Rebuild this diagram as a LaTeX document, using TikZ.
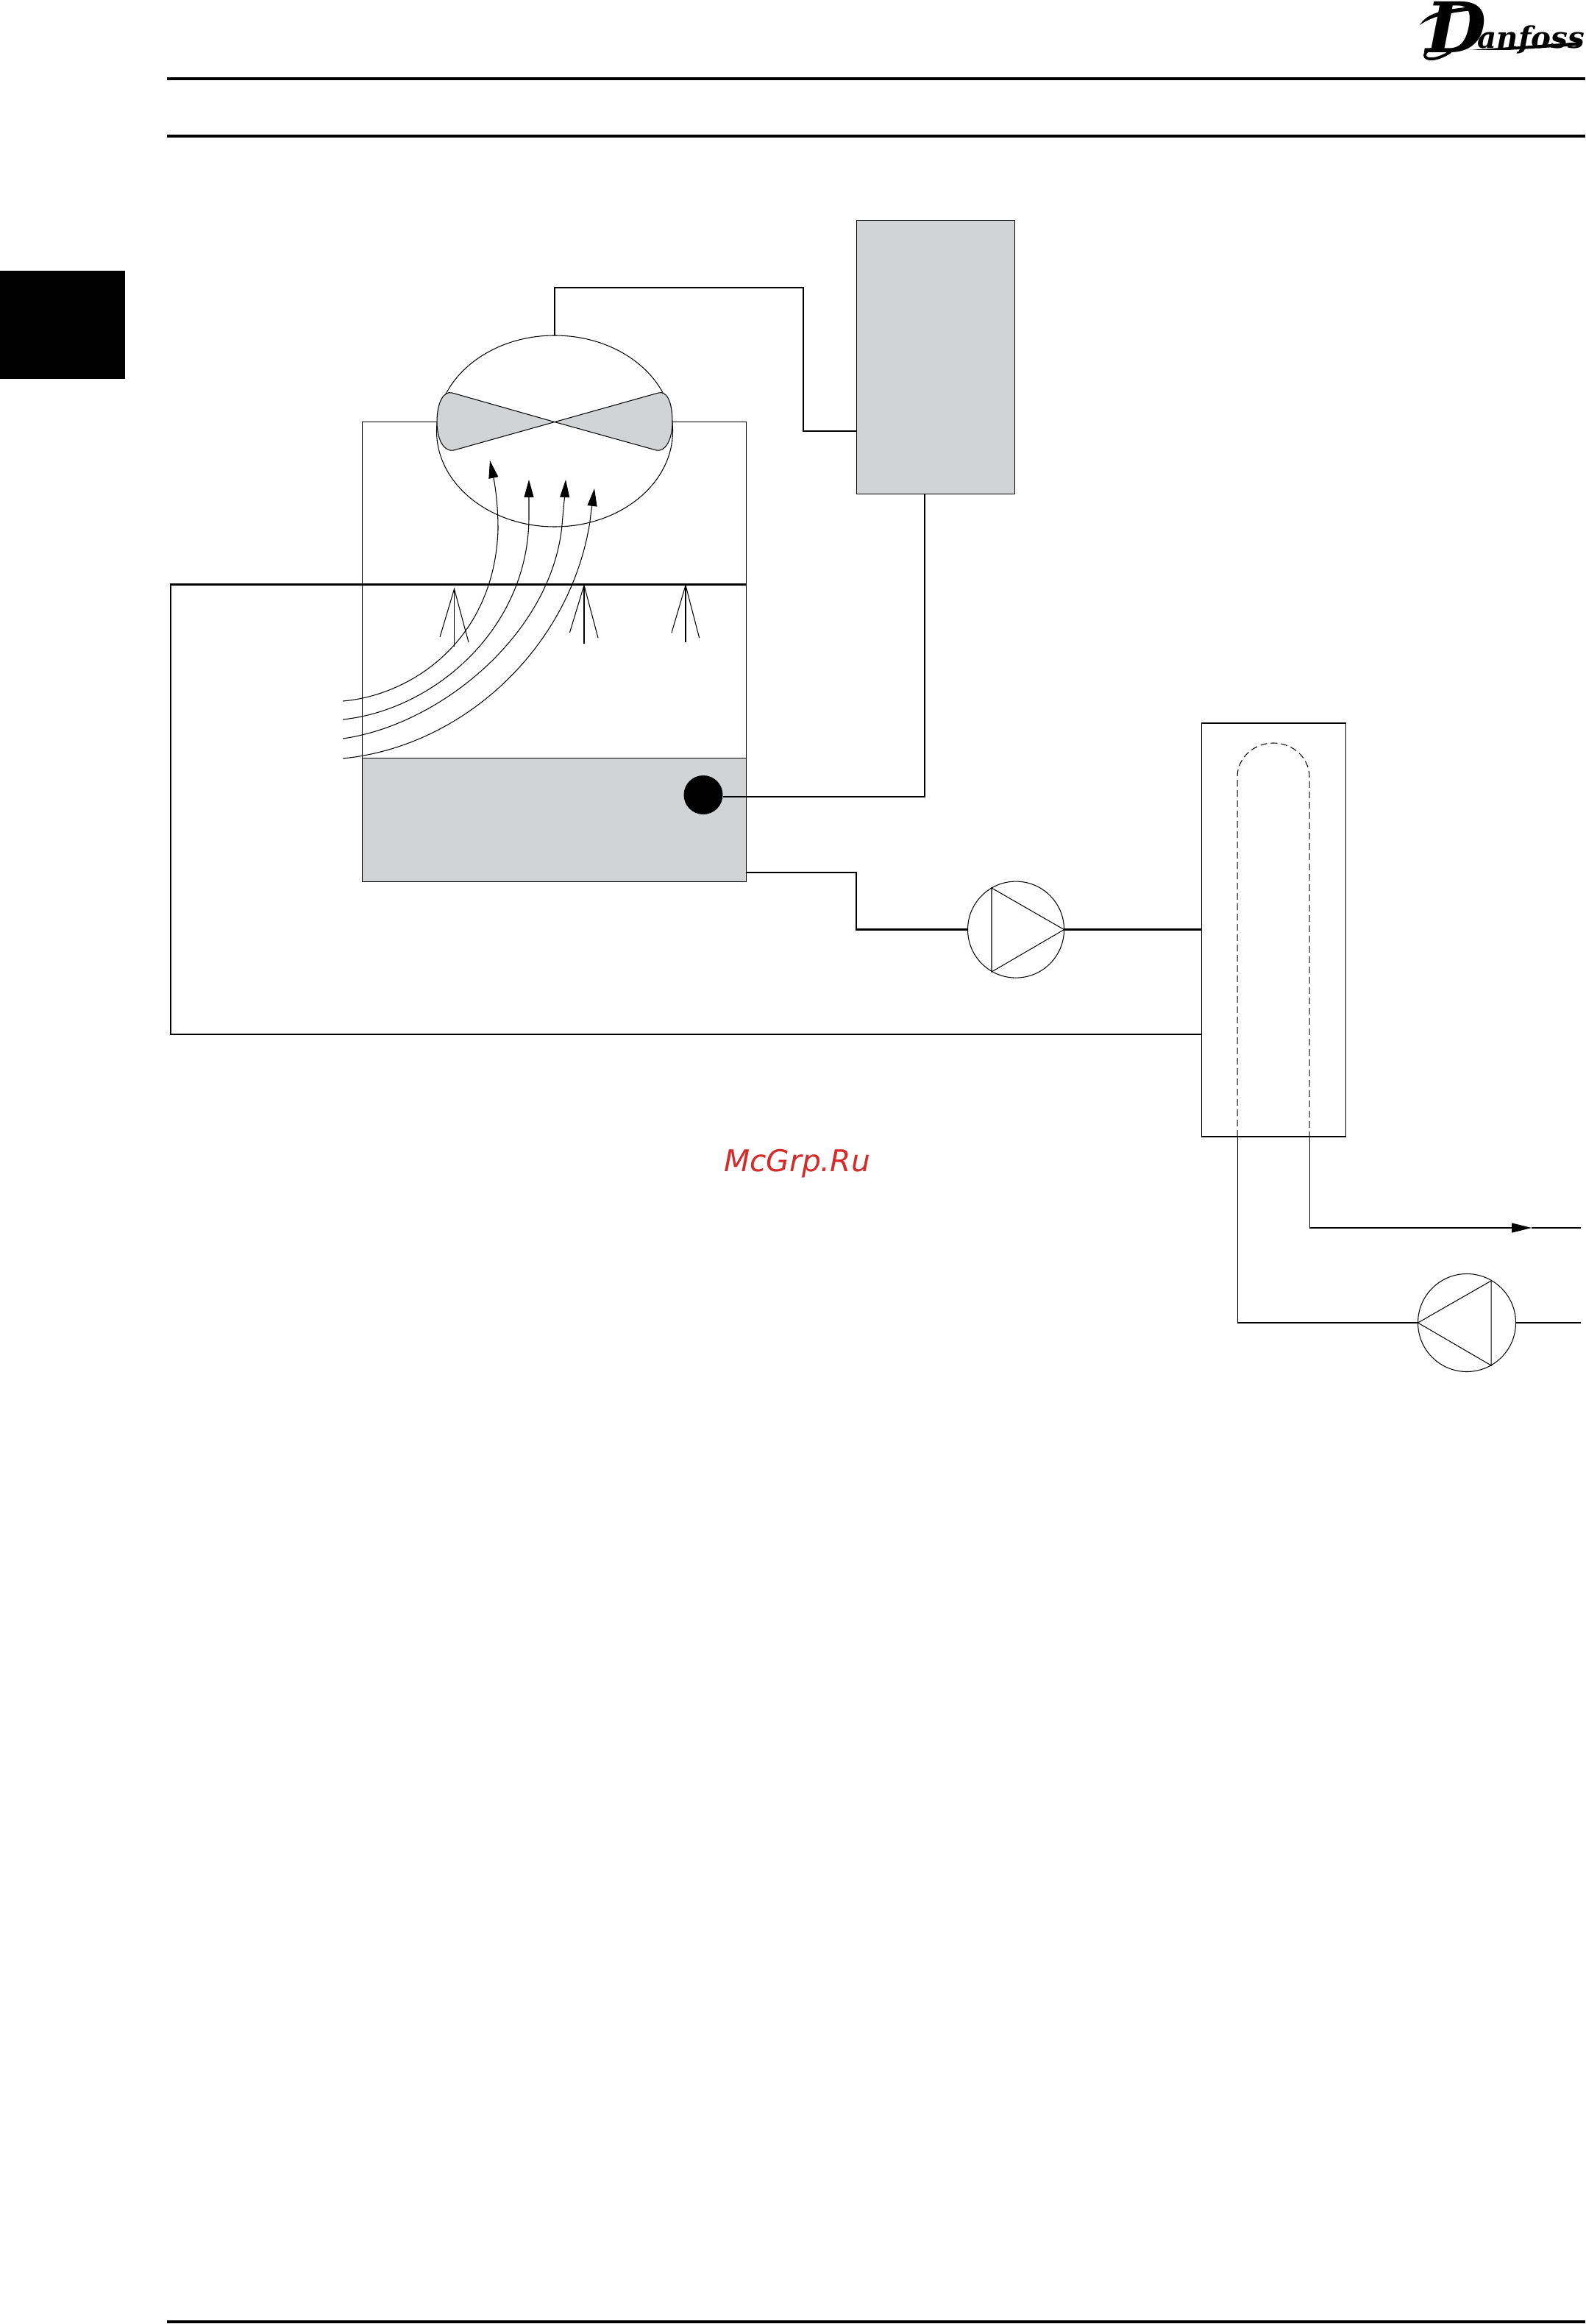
\documentclass[tikz,border=0pt]{standalone}
\usepackage{fontspec}
\usetikzlibrary{calc}
\usetikzlibrary{arrows.meta}
\usetikzlibrary{shapes.geometric}
\newfontfamily\markfont{DejaVu Sans}
\newfontfamily\logofont{DejaVu Serif}
\definecolor{tankgray}{HTML}{D1D3D4}
\definecolor{markred}{HTML}{D42B2B}
\tikzset{
	hairline/.style={line width=.3pt},
	pipe/.style={line width=.8pt},
	rule/.style={line width=.9pt},
	tankbox/.style={draw,hairline,fill=tankgray,rectangle,inner sep=0,outer sep=0},
	openbox/.style={draw,hairline,rectangle,inner sep=0,outer sep=0},
	pumpnode/.style={draw,hairline,circle,fill=white,inner sep=0,outer sep=0},
	airflow/.style={hairline,-{Triangle[length=2.4mm,width=1.3mm]}},
}
\begin{document}
\begin{tikzpicture}[x=1cm,y=-1cm]
	\useasboundingbox (0,0) rectangle (21.55,31.59);
	\fill[white] (0,0) rectangle (21.55,31.59);
	\coordinate (ruleaw) at (2.27,1.07);
	\coordinate (ruleae) at (21.55,1.07);
	\coordinate (rulebw) at (2.27,1.85);
	\coordinate (rulebe) at (21.55,1.85);
	\coordinate (rulecw) at (2.27,31.56);
	\coordinate (rulece) at (21.55,31.56);
	\draw[rule] (ruleaw) -- (ruleae);
	\draw[rule] (rulebw) -- (rulebe);
	\draw[rule] (rulecw) -- (rulece);
	\fill[black] (0,3.68) rectangle (1.7,5.15);
	\node[openbox,minimum width=5.225cm,minimum height=4.571cm] (tower) at (7.535,8.02) {};
	\node[tankbox,minimum width=5.225cm,minimum height=1.679cm] (basin) at (7.535,11.147) {};
	\node[tankbox,minimum width=2.155cm,minimum height=3.72cm] (drive) at (12.72,4.855) {};
	\node[ellipse,draw,hairline,fill=white,inner sep=0,outer sep=0,minimum width=3.21cm,minimum height=2.6cm] (fan) at (7.54,5.86) {};
	\node[openbox,minimum width=1.96cm,minimum height=5.62cm] (exchanger) at (17.31,12.64) {};
	\node[pumpnode,minimum size=1.31cm] (pumpa) at (13.81,12.636) {};
	\node[pumpnode,minimum size=1.33cm] (pumpb) at (19.94,17.98) {};
	\node[circle,fill=black,inner sep=0,outer sep=0,minimum size=.53cm] (sensor) at (9.56,10.805) {};
	\fill[tankgray,draw=black,hairline] (7.54,5.736) -- (6.145,5.34) .. controls (6.04,5.31) and (5.94,5.45) .. (5.94,5.74) .. controls (5.94,5.98) and (6.04,6.15) .. (6.17,6.12) -- (7.54,5.736) -- (8.95,5.34) .. controls (9.06,5.31) and (9.14,5.45) .. (9.14,5.74) .. controls (9.14,5.98) and (9.04,6.15) .. (8.92,6.12) -- cycle;
	\coordinate (topa) at (7.54,3.91);
	\coordinate (topb) at (10.92,3.91);
	\coordinate (topc) at (10.92,5.86);
	\draw[pipe] (fan.north) -- (topa) -- (topb) -- (topc) -- (topc -| drive.west);
	\coordinate (tapdrive) at (12.57,10.83);
	\draw[hairline] (tapdrive |- drive.south) -- (tapdrive) -- (sensor.east |- tapdrive);
	\coordinate (headerw) at (2.32,7.945);
	\coordinate (headere) at (10.15,7.945);
	\coordinate (returnw) at (2.32,14.06);
	\coordinate (returne) at (16.33,14.06);
	\draw[pipe] (headere) -- (headerw) -- (returnw) -- (returne);
	\coordinate (basina) at (10.15,11.86);
	\coordinate (basinb) at (11.64,11.86);
	\coordinate (basinc) at (11.64,12.636);
	\draw[pipe] (basina) -- (basinb) -- (basinc) -- (pumpa.west);
	\draw[pipe] (pumpa.east) -- (pumpa.east -| exchanger.west);
	\coordinate (pumpaup) at (13.48,12.07);
	\coordinate (pumpadn) at (13.48,13.21);
	\draw[hairline] (pumpa.east) -- (pumpaup) -- (pumpadn) -- cycle;
	\coordinate (coilw) at (16.82,15.45);
	\coordinate (coile) at (17.8,15.45);
	\draw[hairline,dashed,dash pattern=on .9mm off .5mm] (coilw) -- (16.82,10.56) arc[start angle=180,end angle=0,x radius=.49cm,y radius=.46cm] -- (coile);
	\coordinate (outa) at (17.8,16.69);
	\coordinate (outtip) at (20.82,16.69);
	\coordinate (oute) at (21.49,16.69);
	\draw[hairline,-{Triangle[length=2.7mm,width=1.3mm]}] (coile) -- (outa) -- (outtip);
	\draw[hairline] (outtip) -- (oute);
	\coordinate (ina) at (16.82,17.98);
	\coordinate (ine) at (21.49,17.98);
	\draw[hairline] (coilw) -- (ina) -- (pumpb.west);
	\draw[hairline] (pumpb.east) -- (ine);
	\coordinate (pumpbup) at (20.27,17.41);
	\coordinate (pumpbdn) at (20.27,18.56);
	\draw[hairline] (pumpb.west) -- (pumpbup) -- (pumpbdn) -- cycle;
	\draw[airflow] (4.66,9.53) .. controls (5.6,9.45) and (6.72,8.7) .. (6.77,7.2) .. controls (6.77,6.8) and (6.72,6.55) .. (6.66,6.26);
	\draw[airflow] (4.66,9.78) .. controls (5.9,9.65) and (7.18,8.55) .. (7.19,7.04) .. controls (7.19,6.9) and (7.19,6.7) .. (7.19,6.52);
	\draw[airflow] (4.66,10.04) .. controls (6,9.85) and (7.5,8.6) .. (7.64,7.14) .. controls (7.66,6.9) and (7.68,6.7) .. (7.69,6.52);
	\draw[airflow] (4.66,10.31) .. controls (6.3,10.15) and (7.75,8.8) .. (8.02,7.09) .. controls (8.04,6.9) and (8.06,6.8) .. (8.08,6.64);
	\coordinate (jeta) at (6.175,8.006);
	\coordinate (jetb) at (7.94,7.955);
	\coordinate (jetc) at (9.32,7.955);
	\draw[hairline] (5.98,8.66) -- (jeta) -- (6.37,8.73);
	\draw[hairline] (jeta) -- (6.175,8.787);
	\draw[hairline] (7.744,8.6) -- (jetb) -- (8.13,8.67);
	\draw[hairline] (jetb) -- (7.94,8.746);
	\draw[hairline] (9.13,8.6) -- (jetc) -- (9.506,8.67);
	\draw[hairline] (jetc) -- (9.32,8.73);
	\node[text=markred,inner sep=0] (mark) at (10.835,15.82) {\markfont\itshape\fontsize{11.6pt}{14pt}\selectfont McGrp.Ru};
	\node[anchor=base west,inner sep=0] (logo) at (19.38,.72) {\logofont\bfseries\itshape\fontsize{27pt}{27pt}\selectfont D\hspace{-3.5pt}\raisebox{1.8pt}{\fontsize{11.5pt}{14pt}\selectfont anfoss}};
	\fill[black] (19.3,.34) .. controls (19.4,.18) and (19.6,.13) .. (20.02,.09) -- (20.02,.14) .. controls (19.75,.17) and (19.5,.2) .. cycle;
	\fill[black] (19.98,.68) -- (21.5,.57) -- (21.47,.62) -- (20.5,.68) -- cycle;
	\draw[line width=1.1pt] (19.72,.7) .. controls (19.55,.82) and (19.37,.83) .. (19.37,.75) .. controls (19.38,.68) and (19.45,.66) .. (19.6,.66);
\end{tikzpicture}
\end{document}
